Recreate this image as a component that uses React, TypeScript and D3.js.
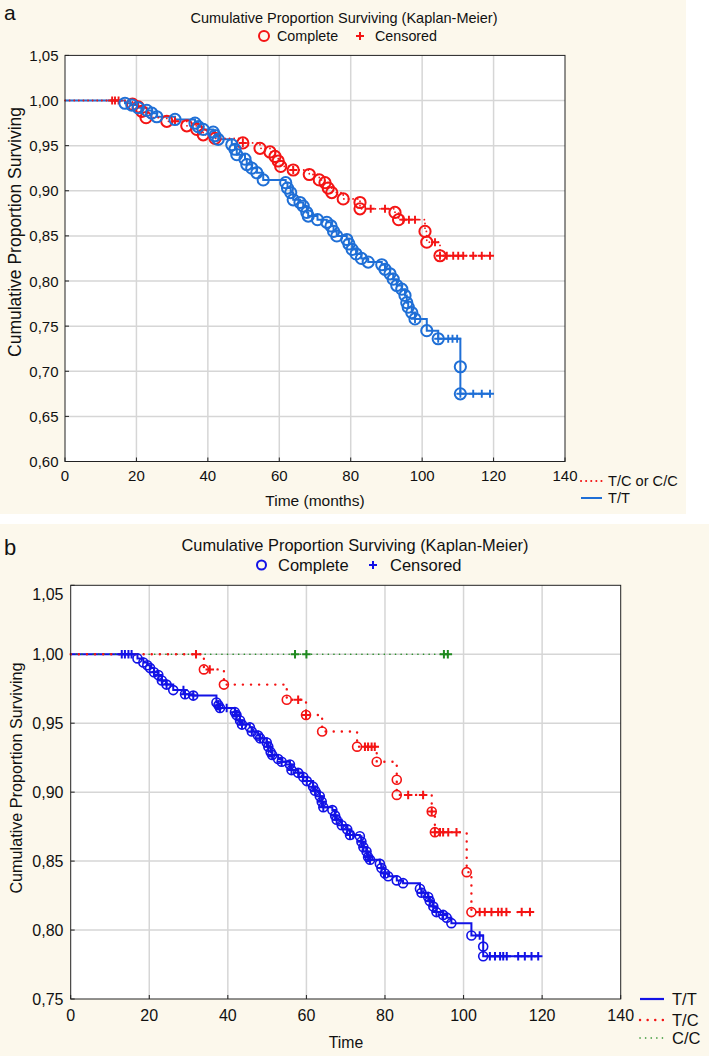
import React from "react";
import * as d3 from "d3";

// ---------- DATA ----------
// Panel a: T/T group (blue) — event times (months) and survival after event
const aTTEvents: [number, number][] = [
  [16.8, 0.997], [18.7, 0.995], [20.5, 0.992], [22.9, 0.989], [24.3, 0.986], [25.7, 0.982],
  [30.8, 0.979], [36.4, 0.975], [37.3, 0.971], [38.7, 0.968], [41.5, 0.965], [42.0, 0.961],
  [42.9, 0.957], [46.7, 0.951], [47.6, 0.946], [48.1, 0.940], [50.4, 0.935], [50.9, 0.929],
  [52.3, 0.925], [53.7, 0.920], [55.5, 0.912], [61.8, 0.909], [62.3, 0.903], [63.2, 0.898],
  [63.9, 0.890], [65.8, 0.887], [66.7, 0.883], [67.7, 0.876], [68.1, 0.872], [70.7, 0.868],
  [73.3, 0.865], [74.5, 0.861], [75.2, 0.855], [76.1, 0.850], [78.9, 0.846], [79.5, 0.841],
  [80.4, 0.835], [81.5, 0.830], [83.0, 0.825], [84.9, 0.821], [88.7, 0.818], [89.6, 0.813],
  [91.0, 0.808], [91.9, 0.802], [92.9, 0.795], [94.3, 0.791], [95.2, 0.784], [95.7, 0.776],
  [96.1, 0.771], [97.1, 0.765], [98.0, 0.758], [101.3, 0.745], [104.5, 0.736],
  [110.7, 0.705], [110.7, 0.675],
];
const aTTCensored: number[] = [98.0, 104.5, 107.3, 108.5, 109.8, 110.7, 114.3, 116.7, 119.0];

// Panel a: T/C or C/C group (red)
const aTCEvents: [number, number][] = [
  [18.9, 0.996], [20.5, 0.993], [21.5, 0.988], [22.7, 0.981], [28.5, 0.977], [34.1, 0.972],
  [36.9, 0.968], [38.7, 0.962], [42.0, 0.958], [49.8, 0.953], [54.6, 0.947], [57.4, 0.943],
  [58.8, 0.938], [59.7, 0.933], [60.4, 0.927], [63.9, 0.923], [68.4, 0.918], [71.2, 0.912],
  [72.8, 0.909], [73.7, 0.903], [74.7, 0.898], [77.9, 0.891], [82.6, 0.887], [82.6, 0.880],
  [92.4, 0.876], [93.4, 0.868], [100.8, 0.855], [101.3, 0.843], [105.0, 0.828],
];
const aTCCensored: number[] = [
  13.2, 14.0, 15.0, 30.8, 49.8, 63.9, 85.6, 89.6, 94.7, 96.3, 98.0, 103.6, 105.0,
  106.9, 108.7, 110.1, 111.5, 114.3, 116.7, 119.0,
];

// Panel b: T/T group (blue)
const bTTEvents: [number, number][] = [
  [17.0, 0.997], [18.5, 0.994], [19.5, 0.992], [20.2, 0.990], [21.2, 0.987], [22.3, 0.985],
  [23.2, 0.981], [24.4, 0.978], [26.1, 0.974], [29.1, 0.971], [31.2, 0.970], [37.1, 0.965],
  [37.6, 0.963], [38.0, 0.961], [41.8, 0.958], [42.2, 0.956], [43.1, 0.952], [43.6, 0.949],
  [45.6, 0.947], [46.1, 0.944], [47.7, 0.941], [48.2, 0.939], [49.9, 0.936], [50.3, 0.933],
  [50.9, 0.929], [51.3, 0.927], [52.8, 0.924], [53.7, 0.922], [55.8, 0.920], [56.2, 0.916],
  [57.9, 0.914], [59.2, 0.911], [60.1, 0.908], [61.7, 0.904], [62.2, 0.901], [63.4, 0.897],
  [63.9, 0.893], [64.3, 0.889], [66.6, 0.887], [67.3, 0.883], [67.7, 0.880], [69.0, 0.876],
  [70.4, 0.873], [71.1, 0.869], [73.6, 0.868], [74.0, 0.864], [74.5, 0.860], [75.3, 0.857],
  [75.7, 0.853], [76.2, 0.851], [78.7, 0.848], [79.1, 0.845], [80.0, 0.841], [80.8, 0.839],
  [83.0, 0.836], [84.6, 0.834], [88.9, 0.830], [89.3, 0.827], [91.0, 0.824], [91.4, 0.821],
  [92.3, 0.817], [93.1, 0.813], [94.8, 0.811], [95.7, 0.809], [96.9, 0.805], [102.0, 0.796],
  [105.0, 0.788], [105.0, 0.781],
];
const bTTCensored: number[] = [
  13.0, 13.8, 14.7, 15.5, 21.2, 22.3, 23.2, 24.4, 28.7, 29.1, 31.2, 37.6, 38.0, 39.7, 41.8,
  42.2, 43.1, 43.6, 46.1, 48.2, 49.9, 50.3, 51.3, 53.7, 55.8, 56.2, 57.9, 59.2, 60.1, 61.7,
  62.2, 63.4, 63.9, 64.3, 67.3, 67.7, 69.0, 70.4, 71.1, 71.9, 74.0, 74.5, 75.3, 75.7, 76.2,
  79.1, 80.0, 89.3, 91.0, 91.4, 92.3, 93.1, 94.8, 104.1, 106.7, 108.0, 109.3, 110.1, 111.0,
  113.9, 115.6, 117.3, 119.0,
];

// Panel b: T/C group (red)
const bTCEvents: [number, number][] = [
  [33.9, 0.989], [39.0, 0.978], [55.0, 0.967], [59.9, 0.956], [64.0, 0.944], [72.9, 0.933],
  [77.9, 0.922], [83.0, 0.909], [83.0, 0.898], [91.9, 0.886], [92.7, 0.871], [100.8, 0.842],
  [102.0, 0.813],
];
const bTCCensored: number[] = [
  31.9, 35.4, 57.9, 59.9, 74.9, 75.7, 76.6, 77.4, 85.9, 89.7, 91.9, 92.7, 94.0, 94.8, 96.1,
  98.2, 104.1, 105.4, 107.1, 108.8, 109.7, 110.9, 114.8, 116.9,
];

// Panel b: C/C group (green) — no events
const bCCEvents: [number, number][] = [];
const bCCCensored: number[] = [57.1, 60.0, 95.0, 96.0];

const xTicks = [0, 20, 40, 60, 80, 100, 120, 140];
const aYTicks = [0.6, 0.65, 0.7, 0.75, 0.8, 0.85, 0.9, 0.95, 1.0, 1.05];
const bYTicks = [0.75, 0.8, 0.85, 0.9, 0.95, 1.0, 1.05];

const TITLE = "Cumulative Proportion Surviving (Kaplan-Meier)";
const YLABEL = "Cumulative Proportion Surviving";

// ---------- STYLE ----------
const FONT = "'Liberation Sans', Arial, Helvetica, sans-serif";
const CREAM = "#fcf8ec";
const GRID = "#d6d6d6";
const AXIS = "#222";

type Group = {
  events: [number, number][];
  censored: number[];
  color: string;
  dash: string | null;
  lineWidth: number;
};

type PanelCfg = {
  bg: [number, number, number, number];
  xRange: [number, number];
  yRange: [number, number];
  yDomain: [number, number];
  yTicks: number[];
  tickFont: number;
  yLabelRight: number;
  xLabelY: number;
  topLabelShift: number;
  title: { x: number; y: number; size: number };
  legend: { y: number; circleX: number; completeX: number; plusX: number; censoredX: number; size: number; r: number; color: string };
  yTitle: { x: number; y: number; size: number };
  xTitle: { text: string; x: number; y: number; size: number };
  letter: { text: string; x: number; y: number; size: number };
  side: { lineX: [number, number]; textX: number; size: number; items: { label: string; y: number; color: string; dash: string | null; width: number }[] };
  groups: Group[];
  markerOrder: number[];
  r: number;
  circleWidth: number;
  plus: number;
  plusWidth: number;
};

const fmt = (v: number) => d3.format(".2f")(v).replace(".", ",");

function survivalAt(events: [number, number][], t: number) {
  let s = 1;
  for (const [et, v] of events) if (et <= t + 1e-9) s = v;
  return s;
}

function Panel({ c }: { c: PanelCfg }) {
  const x = d3.scaleLinear().domain([0, 140]).range(c.xRange);
  const y = d3.scaleLinear().domain(c.yDomain).range(c.yRange);
  const [x0, x1] = c.xRange;
  const [yb, yt] = c.yRange;
  const line = d3
    .line<[number, number]>()
    .x((d) => x(d[0]))
    .y((d) => y(d[1]))
    .curve(d3.curveStepAfter);

  const paths = c.groups.map((g) => {
    const tmax = Math.max(...g.censored, ...g.events.map((e) => e[0]));
    const pts: [number, number][] = [[0, 1], ...g.events, [tmax, survivalAt(g.events, tmax)]];
    return line(pts) || "";
  });

  const plusPath = (cx: number, cy: number, s: number) =>
    `M${cx - s / 2},${cy}H${cx + s / 2}M${cx},${cy - s / 2}V${cy + s / 2}`;

  return (
    <g fontFamily={FONT} fill="#111">
      <rect x={c.bg[0]} y={c.bg[1]} width={c.bg[2]} height={c.bg[3]} fill={CREAM} />
      <rect x={x0} y={yt} width={x1 - x0} height={yb - yt} fill="#fff" />
      {/* grid */}
      {xTicks.slice(1, -1).map((t) => (
        <line key={"gx" + t} x1={x(t)} x2={x(t)} y1={yt} y2={yb} stroke={GRID} strokeWidth={1.5} />
      ))}
      {c.yTicks.slice(1, -1).map((t) => (
        <line key={"gy" + t} x1={x0} x2={x1} y1={y(t)} y2={y(t)} stroke={GRID} strokeWidth={1.5} />
      ))}
      {/* ticks */}
      {xTicks.map((t) => (
        <line key={"tx" + t} x1={x(t)} x2={x(t)} y1={yb} y2={yb - 4} stroke={AXIS} strokeWidth={1} />
      ))}
      {c.yTicks.map((t) => (
        <line key={"ty" + t} x1={x0} x2={x0 + 4} y1={y(t)} y2={y(t)} stroke={AXIS} strokeWidth={1} />
      ))}
      {/* curves */}
      {c.groups.map((g, i) => (
        <path
          key={"p" + i}
          d={paths[i]}
          fill="none"
          stroke={g.color}
          strokeWidth={g.lineWidth}
          strokeDasharray={g.dash || undefined}
          strokeLinecap={g.dash ? "round" : "butt"}
        />
      ))}
      {/* markers */}
      {c.markerOrder.map((gi) => {
        const g = c.groups[gi];
        return (
          <g key={"m" + gi}>
            {g.events.map((e, j) => (
              <circle key={"c" + j} cx={x(e[0])} cy={y(e[1])} r={c.r} fill="none" stroke={g.color} strokeWidth={c.circleWidth} />
            ))}
            {g.censored.map((t, j) => (
              <path key={"x" + j} d={plusPath(x(t), y(survivalAt(g.events, t)), c.plus)} stroke={g.color} strokeWidth={c.plusWidth} fill="none" />
            ))}
          </g>
        );
      })}
      {/* frame */}
      <rect x={x0} y={yt} width={x1 - x0} height={yb - yt} fill="none" stroke={AXIS} strokeWidth={1} />
      {/* tick labels */}
      {xTicks.map((t) => (
        <text key={"lx" + t} x={x(t)} y={c.xLabelY} fontSize={c.tickFont} textAnchor="middle" dominantBaseline="central">
          {t}
        </text>
      ))}
      {c.yTicks.map((t, i) => (
        <text
          key={"ly" + t}
          x={c.yLabelRight}
          y={y(t) + (i === c.yTicks.length - 1 ? c.topLabelShift : 0)}
          fontSize={c.tickFont}
          textAnchor="end"
          dominantBaseline="central"
        >
          {fmt(t)}
        </text>
      ))}
      {/* titles */}
      <text x={c.title.x} y={c.title.y} fontSize={c.title.size} textAnchor="middle" dominantBaseline="central">
        {TITLE}
      </text>
      <circle cx={c.legend.circleX} cy={c.legend.y} r={c.legend.r} fill="none" stroke={c.legend.color} strokeWidth={2} />
      <text x={c.legend.completeX} y={c.legend.y} fontSize={c.legend.size} dominantBaseline="central">
        Complete
      </text>
      <path d={plusPath(c.legend.plusX, c.legend.y, 8)} stroke={c.legend.color} strokeWidth={2} />
      <text x={c.legend.censoredX} y={c.legend.y} fontSize={c.legend.size} dominantBaseline="central">
        Censored
      </text>
      <text
        transform={`translate(${c.yTitle.x},${c.yTitle.y}) rotate(-90)`}
        fontSize={c.yTitle.size}
        textAnchor="middle"
        dominantBaseline="central"
      >
        {YLABEL}
      </text>
      <text x={c.xTitle.x} y={c.xTitle.y} fontSize={c.xTitle.size} textAnchor="middle" dominantBaseline="central">
        {c.xTitle.text}
      </text>
      <text x={c.letter.x} y={c.letter.y} fontSize={c.letter.size}>
        {c.letter.text}
      </text>
      {/* side legend */}
      {c.side.items.map((it) => (
        <g key={it.label}>
          <line
            x1={c.side.lineX[0]}
            x2={c.side.lineX[1]}
            y1={it.y}
            y2={it.y}
            stroke={it.color}
            strokeWidth={it.width}
            strokeDasharray={it.dash || undefined}
            strokeLinecap={it.dash ? "round" : "butt"}
          />
          <text x={c.side.textX} y={it.y} fontSize={c.side.size} dominantBaseline="central">
            {it.label}
          </text>
        </g>
      ))}
    </g>
  );
}

const RED = "#f41414";
const BLUE_A = "#1f6fd6";
const BLUE_B = "#1212e6";
const GREEN = "#1f8a1f";

const panelA: PanelCfg = {
  bg: [0, 0, 686, 514],
  xRange: [65, 565],
  yRange: [461.5, 55.4],
  yDomain: [0.6, 1.05],
  yTicks: aYTicks,
  tickFont: 15,
  yLabelRight: 58.5,
  xLabelY: 475,
  topLabelShift: 0,
  title: { x: 344, y: 18, size: 14.5 },
  legend: { y: 36, circleX: 264, completeX: 277, plusX: 360, censoredX: 375, size: 14.3, r: 5, color: RED },
  yTitle: { x: 15, y: 232, size: 17.5 },
  xTitle: { text: "Time (months)", x: 315, y: 500, size: 15.5 },
  letter: { text: "a", x: 4, y: 20, size: 21 },
  side: {
    lineX: [581, 602],
    textX: 608,
    size: 14.6,
    items: [
      { label: "T/C or C/C", y: 481, color: RED, dash: "0.1,5", width: 2 },
      { label: "T/T", y: 498, color: BLUE_A, dash: null, width: 2 },
    ],
  },
  groups: [
    { events: aTTEvents, censored: aTTCensored, color: BLUE_A, dash: null, lineWidth: 2 },
    { events: aTCEvents, censored: aTCCensored, color: RED, dash: "0.1,4.5", lineWidth: 1.8 },
  ],
  markerOrder: [1, 0],
  r: 5.6,
  circleWidth: 2,
  plus: 8,
  plusWidth: 1.9,
};

const panelB: PanelCfg = {
  bg: [0, 524, 709, 532],
  xRange: [70.7, 620.7],
  yRange: [999, 585.3],
  yDomain: [0.75, 1.05],
  yTicks: bYTicks,
  tickFont: 16,
  yLabelRight: 63.5,
  xLabelY: 1015,
  topLabelShift: 9,
  title: { x: 355, y: 545, size: 16.4 },
  legend: { y: 565, circleX: 261.5, completeX: 278, plusX: 373, censoredX: 390, size: 16.5, r: 4.5, color: BLUE_B },
  yTitle: { x: 15.5, y: 778, size: 16.2 },
  xTitle: { text: "Time", x: 346, y: 1042, size: 15.8 },
  letter: { text: "b", x: 4, y: 555, size: 22 },
  side: {
    lineX: [640, 664],
    textX: 672,
    size: 16.5,
    items: [
      { label: "T/T", y: 999, color: BLUE_B, dash: null, width: 2.2 },
      { label: "T/C", y: 1020, color: RED, dash: "0.1,7.5", width: 2.4 },
      { label: "C/C", y: 1038, color: GREEN, dash: "0.1,5.5", width: 1.6 },
    ],
  },
  groups: [
    { events: bTTEvents, censored: bTTCensored, color: BLUE_B, dash: null, lineWidth: 2 },
    { events: bCCEvents, censored: bCCCensored, color: GREEN, dash: "0.1,5.5", lineWidth: 1.6 },
    { events: bTCEvents, censored: bTCCensored, color: RED, dash: "0.1,8", lineWidth: 2.4 },
  ],
  markerOrder: [0, 1, 2],
  r: 4.5,
  circleWidth: 1.6,
  plus: 8.5,
  plusWidth: 2,
};

export default function App() {
  return (
    <svg
      width={709}
      height={1056}
      viewBox="0 0 709 1056"
      style={{ position: "absolute", left: 0, top: 0, background: "#fff" }}
    >
      <Panel c={panelA} />
      <Panel c={panelB} />
    </svg>
  );
}
